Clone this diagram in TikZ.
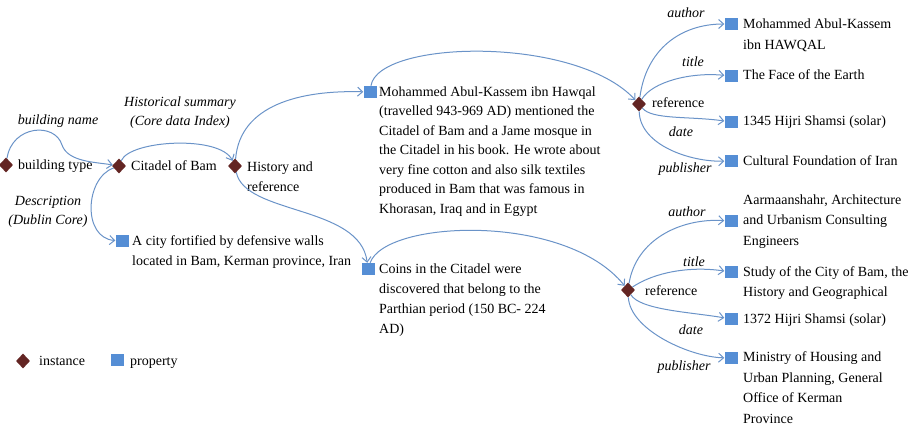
\documentclass[tikz,border=0pt]{standalone}
\usepackage{fontspec}
\setmainfont{Liberation Serif}
\usetikzlibrary{shapes.geometric,arrows.meta}
\definecolor{instcol}{HTML}{632523}
\definecolor{propcol}{HTML}{558ED5}
\definecolor{conncol}{HTML}{6A93C8}
\tikzset{
  inst/.style={diamond,fill=instcol,inner sep=0pt,minimum width=14pt,minimum height=15pt},
  prop/.style={rectangle,fill=propcol,inner sep=0pt,minimum width=13pt,minimum height=12pt},
  txt/.style={anchor=base west,inner sep=0pt,align=left,font=\fontsize{14}{20.5}\selectfont},
  lbl/.style={anchor=base,inner sep=0pt,align=center,font=\fontsize{14}{19}\selectfont\itshape},
  link/.style={draw=conncol,line width=1pt,-{Straight Barb[length=5pt,width=9pt]}},
}
\begin{document}
\begin{tikzpicture}[x=1pt,y=-1pt]
\useasboundingbox (0,0) rectangle (916,425);
% instances and properties (multi-line texts placed by the baseline of their last line)
\node[inst] (bt) at (6,165) {};
\node[txt] (btt) at (18,170) {building type};
\node[inst] (cb) at (119,166) {};
\node[txt] (cbt) at (131,171) {Citadel of Bam};
\node[inst] (hr) at (235,166) {};
\node[txt] (hrt) at (247,191.5) {History and\\reference};
\node[prop] (ds) at (122,241) {};
\node[txt] (dst) at (132,265.5) {A city fortified by defensive walls\\located in Bam, Kerman province, Iran};
\node[prop] (hw) at (370,92) {};
\node[txt,font=\fontsize{14}{19.5}\selectfont] (hwt) at (379,213) {Mohammed Abul-Kassem ibn Hawqal\\(travelled 943-969 AD) mentioned the\\Citadel of Bam and a Jame mosque in\\the Citadel in his book. He wrote about\\very fine cotton and also silk textiles\\produced in Bam that was famous in\\Khorasan, Iraq and in Egypt};
\node[prop] (cn) at (368,269) {};
\node[txt,font=\fontsize{14}{20}\selectfont] (cnt) at (379,333) {Coins in the Citadel were\\discovered that belong to the\\Parthian period (150 BC- 224\\AD)};
\node[inst] (r1) at (639,104) {};
\node[txt] (r1t) at (652,108) {reference};
\node[prop] (a1) at (731,24) {};
\node[txt] (a1t) at (743,49.5) {Mohammed Abul-Kassem\\ibn HAWQAL};
\node[prop] (t1) at (731,76) {};
\node[txt] (t1t) at (743,80) {The Face of the Earth};
\node[prop] (d1) at (731,122) {};
\node[txt] (d1t) at (743,126) {1345 Hijri Shamsi (solar)};
\node[prop] (p1) at (731,161) {};
\node[txt] (p1t) at (743,165) {Cultural Foundation of Iran};
\node[inst] (r2) at (628,290) {};
\node[txt] (r2t) at (645,295) {reference};
\node[prop] (a2) at (731,221) {};
\node[txt] (a2t) at (743,245) {Aarmaanshahr, Architecture\\and Urbanism Consulting\\Engineers};
\node[prop] (t2) at (731,272) {};
\node[txt] (t2t) at (743,296.5) {Study of the City of Bam, the\\History and Geographical};
\node[prop] (d2) at (731,319) {};
\node[txt] (d2t) at (743,323) {1372 Hijri Shamsi (solar)};
\node[prop] (p2) at (731,358) {};
\node[txt] (p2t) at (743,423) {Ministry of Housing and\\Urban Planning, General\\Office of Kerman\\Province};
% legend
\node[inst] (li) at (23,361) {};
\node[txt] (lit) at (39,365) {instance};
\node[prop] (lp) at (117,360) {};
\node[txt] (lpt) at (130,365) {property};
% labels
\node[lbl] (l1) at (58,125) {building name};
\node[lbl] (l2) at (180,126) {Historical summary\\(Core data Index)};
\node[lbl] (l3) at (48,224) {Description\\(Dublin Core)};
\node[lbl] (l4) at (686,18) {author};
\node[lbl] (l5) at (693,67) {title};
\node[lbl] (l6) at (681,137) {date};
\node[lbl] (l7) at (685,172) {publisher};
\node[lbl] (l8) at (687,216) {author};
\node[lbl] (l9) at (694,266) {title};
\node[lbl] (l10) at (691,334) {date};
\node[lbl] (l11) at (684,370) {publisher};
% connectors
\draw[link] (bt) .. controls (12,125) and (55,122) .. (62,145) .. controls (68,162) and (95,162) .. (cb);
\draw[link] (cb) .. controls (130,140) and (220,135) .. (hr);
\draw[link] (cb) .. controls (85,178) and (82,238) .. (ds);
\draw[link] (hr) .. controls (240,105) and (300,90) .. (hw);
\draw[link] (hr) .. controls (245,215) and (360,205) .. (cn);
\draw[link] (hw) .. controls (378,40) and (575,35) .. (r1);
\draw[link] (cn) .. controls (385,220) and (565,212) .. (r2);
\draw[link] (r1) .. controls (646,50) and (680,24) .. (a1);
\draw[link] (r1) .. controls (652,82) and (690,72) .. (t1);
\draw[link] (r1) .. controls (652,120) and (690,116) .. (d1);
\draw[link] (r1) .. controls (640,145) and (690,162) .. (p1);
\draw[link] (r2) .. controls (636,240) and (680,218) .. (a2);
\draw[link] (r2) .. controls (655,272) and (690,266) .. (t2);
\draw[link] (r2) .. controls (640,310) and (690,312) .. (d2);
\draw[link] (r2) .. controls (630,330) and (690,357) .. (p2);
\end{tikzpicture}
\end{document}
